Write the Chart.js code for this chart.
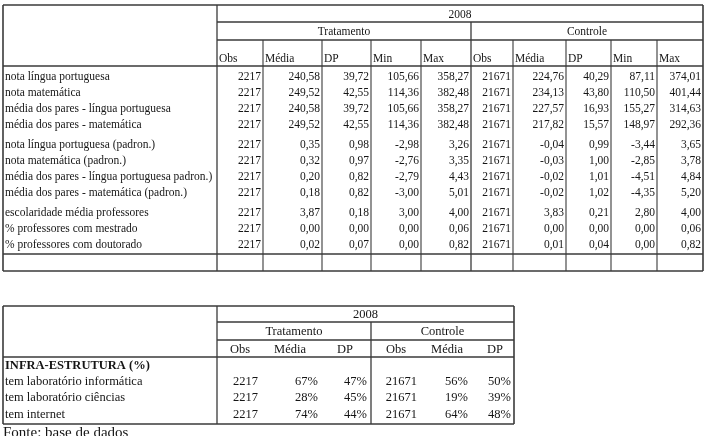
<!DOCTYPE html>
<html>
<head>
<meta charset="utf-8">
<script src="https://cdn.jsdelivr.net/npm/chart.js@4/dist/chart.umd.min.js"></script>
<style>
  html, body { margin: 0; padding: 0; background: #fff; }
  #tabela { display: block; }
</style>
</head>
<body>
<canvas id="tabela" width="706" height="436"></canvas>
<script>
// Table 1 data
const year = '2008';
const groups = ['Tratamento', 'Controle'];
const statCols = ['Obs', 'Média', 'DP', 'Min', 'Max'];
const rowLabels = [
    'nota língua portuguesa',
    'nota matemática',
    'média dos pares - língua portuguesa',
    'média dos pares - matemática',
    'nota língua portuguesa (padron.)',
    'nota matemática (padron.)',
    'média dos pares - língua portuguesa padron.)',
    'média dos pares - matemática (padron.)',
    'escolaridade média professores',
    '% professores com mestrado',
    '% professores com doutorado'
];
const tratObs   = [2217, 2217, 2217, 2217, 2217, 2217, 2217, 2217, 2217, 2217, 2217];
const tratMedia = [240.58, 249.52, 240.58, 249.52, 0.35, 0.32, 0.20, 0.18, 3.87, 0.00, 0.02];
const tratDP    = [39.72, 42.55, 39.72, 42.55, 0.98, 0.97, 0.82, 0.82, 0.18, 0.00, 0.07];
const tratMin   = [105.66, 114.36, 105.66, 114.36, -2.98, -2.76, -2.79, -3.00, 3.00, 0.00, 0.00];
const tratMax   = [358.27, 382.48, 358.27, 382.48, 3.26, 3.35, 4.43, 5.01, 4.00, 0.06, 0.82];
const contObs   = [21671, 21671, 21671, 21671, 21671, 21671, 21671, 21671, 21671, 21671, 21671];
const contMedia = [224.76, 234.13, 227.57, 217.82, -0.04, -0.03, -0.02, -0.02, 3.83, 0.00, 0.01];
const contDP    = [40.29, 43.80, 16.93, 15.57, 0.99, 1.00, 1.01, 1.02, 0.21, 0.00, 0.04];
const contMin   = [87.11, 110.50, 155.27, 148.97, -3.44, -2.85, -4.51, -4.35, 2.80, 0.00, 0.00];
const contMax   = [374.01, 401.44, 314.63, 292.36, 3.65, 3.78, 4.84, 5.20, 4.00, 0.06, 0.82];

// Table 2 data
const infraTitle = 'INFRA-ESTRUTURA (%)';
const infraCols = ['Obs', 'Média', 'DP'];
const infraLabels = ['tem laboratório informática', 'tem laboratório ciências', 'tem internet'];
const infraTratObs   = [2217, 2217, 2217];
const infraTratMedia = [67, 28, 74];
const infraTratDP    = [47, 45, 44];
const infraContObs   = [21671, 21671, 21671];
const infraContMedia = [56, 19, 64];
const infraContDP    = [50, 39, 48];
const sourceNote = 'Fonte: base de dados';

const dec = v => v.toFixed(2).replace('.', ',');
const pct = v => v + '%';

// layout (canvas units)
const t1 = {
    left: 3, right: 703, top: 5, bottom: 271,
    cols: [3, 217, 263, 322, 371, 421, 471, 513, 566, 611, 657, 703],
    yYear: 22, yGroup: 40, yHead: 66, yBlank: 254,
    rowY: [77, 93, 109, 125, 145, 161, 177, 193, 213, 229, 245]
};
const t2 = {
    left: 3, right: 514, top: 306, bottom: 424, split: 217, mid: 371,
    yYear: 322, yGroup: 340, yHead: 357,
    headX: [240, 290, 345, 396, 447, 495],
    numX: [258, 318, 367, 417, 468, 511],
    titleY: 366, rowY: [382, 398, 415]
};

const serif = '"Liberation Serif", "DejaVu Serif", serif';

const tablePlugin = {
    id: 'tablePlugin',
    afterDraw(chart) {
        const ctx = chart.ctx;
        const sx = chart.scales.x, sy = chart.scales.y;
        const X = v => sx.getPixelForValue(v);
        const Y = v => sy.getPixelForValue(v);
        const line = (x1, y1, x2, y2, w) => {
            ctx.lineWidth = w || 1;
            ctx.beginPath();
            ctx.moveTo(X(x1), Y(y1));
            ctx.lineTo(X(x2), Y(y2));
            ctx.stroke();
        };
        const text = (s, x, y, align) => {
            ctx.textAlign = align || 'left';
            ctx.fillText(s, X(x), Y(y));
        };

        ctx.save();
        ctx.strokeStyle = '#3a3a3a';
        ctx.fillStyle = '#151515';
        ctx.textBaseline = 'middle';

        // ---- table 1 ----
        ctx.font = '11.5px ' + serif;
        const c = t1.cols;
        line(t1.left, t1.top, t1.right, t1.top, 1.6);
        line(t1.left, t1.bottom, t1.right, t1.bottom, 1.6);
        line(t1.left, t1.top, t1.left, t1.bottom, 1.6);
        line(t1.right, t1.top, t1.right, t1.bottom, 1.6);
        line(c[1], t1.top, c[1], t1.bottom, 1.3);
        line(c[1], t1.yYear, t1.right, t1.yYear, 1.3);
        line(c[1], t1.yGroup, t1.right, t1.yGroup, 1.3);
        line(t1.left, t1.yHead, t1.right, t1.yHead, 1.3);
        line(t1.left, t1.yBlank, t1.right, t1.yBlank, 1.3);
        line(c[6], t1.yYear, c[6], t1.bottom, 1.3);
        for (let i = 2; i < c.length - 1; i++) {
            if (i !== 6) line(c[i], t1.yGroup, c[i], t1.bottom, 1.1);
        }
        text(year, (c[1] + c[11]) / 2, (t1.top + t1.yYear) / 2 + 1, 'center');
        text(groups[0], (c[1] + c[6]) / 2, (t1.yYear + t1.yGroup) / 2 + 1, 'center');
        text(groups[1], (c[6] + c[11]) / 2, (t1.yYear + t1.yGroup) / 2 + 1, 'center');
        for (let g = 0; g < 2; g++) {
            statCols.forEach((h, k) => text(h, c[1 + g * 5 + k] + 2, 59));
        }
        const series = [tratObs, tratMedia, tratDP, tratMin, tratMax,
                        contObs, contMedia, contDP, contMin, contMax];
        rowLabels.forEach((lab, r) => {
            const y = t1.rowY[r];
            text(lab, t1.left + 2, y);
            series.forEach((s, k) => {
                const v = (k % 5 === 0) ? String(s[r]) : dec(s[r]);
                text(v, c[k + 2] - 2, y, 'right');
            });
        });

        // ---- table 2 ----
        ctx.font = '12.5px ' + serif;
        line(t2.left, t2.top, t2.right, t2.top, 1.6);
        line(t2.left, t2.bottom, t2.right, t2.bottom, 1.6);
        line(t2.left, t2.top, t2.left, t2.bottom, 1.6);
        line(t2.right, t2.top, t2.right, t2.bottom, 1.6);
        line(t2.split, t2.top, t2.split, t2.bottom, 1.3);
        line(t2.split, t2.yYear, t2.right, t2.yYear, 1.3);
        line(t2.split, t2.yGroup, t2.right, t2.yGroup, 1.3);
        line(t2.left, t2.yHead, t2.right, t2.yHead, 1.3);
        line(t2.mid, t2.yYear, t2.mid, t2.bottom, 1.3);
        text(year, (t2.split + t2.right) / 2, (t2.top + t2.yYear) / 2 + 1, 'center');
        text(groups[0], (t2.split + t2.mid) / 2, (t2.yYear + t2.yGroup) / 2 + 1, 'center');
        text(groups[1], (t2.mid + t2.right) / 2, (t2.yYear + t2.yGroup) / 2 + 1, 'center');
        [...infraCols, ...infraCols].forEach((h, k) => text(h, t2.headX[k], (t2.yGroup + t2.yHead) / 2 + 1, 'center'));
        ctx.font = 'bold 12.5px ' + serif;
        text(infraTitle, t2.left + 2, t2.titleY);
        ctx.font = '12.5px ' + serif;
        const infraSeries = [infraTratObs, infraTratMedia, infraTratDP,
                             infraContObs, infraContMedia, infraContDP];
        infraLabels.forEach((lab, r) => {
            const y = t2.rowY[r];
            text(lab, t2.left + 2, y);
            infraSeries.forEach((s, k) => {
                const v = (k % 3 === 0) ? String(s[r]) : pct(s[r]);
                text(v, t2.numX[k], y, 'right');
            });
        });

        ctx.font = '15px ' + serif;
        text(sourceNote, t2.left, 433);
        ctx.restore();
    }
};

new Chart(document.getElementById('tabela').getContext('2d'), {
    type: 'scatter',
    data: { datasets: [] },
    options: {
        responsive: false,
        animation: false,
        layout: { padding: 0 },
        plugins: { legend: { display: false }, tooltip: { enabled: false } },
        scales: {
            x: { type: 'linear', min: 0, max: 706, display: false },
            y: { type: 'linear', min: 0, max: 436, reverse: true, display: false }
        }
    },
    plugins: [tablePlugin]
});
</script>
</body>
</html>
